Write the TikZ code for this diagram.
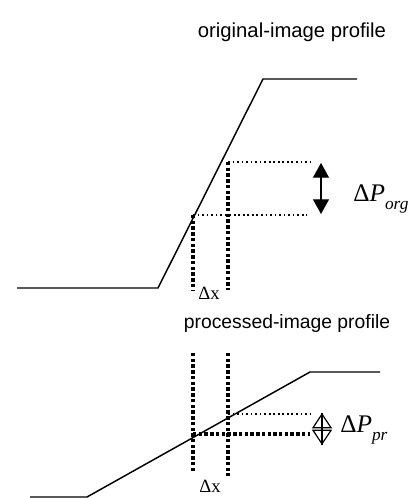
\documentclass[tikz,border=0pt]{standalone}
\usepackage{fontspec}
\setmainfont{Liberation Serif}
\newfontfamily\arialfont{Liberation Sans}
\usetikzlibrary{arrows.meta}
\begin{document}
\begin{tikzpicture}[x=0.75pt,y=-0.75pt,
  curve/.style={line width=1.1pt},
  thindot/.style={line width=1.2pt, dash pattern=on 1.3pt off 2.1pt},
  thickdot/.style={line width=2.3pt, dash pattern=on 2.6pt off 1.7pt},
  solidarrow/.style={line width=0.8pt, {Triangle[length=11pt,width=12pt]}-{Triangle[length=11pt,width=12pt]}},
  openarrow/.style={line width=0.9pt, {Triangle[open,length=11.5pt,width=15pt]}-{Triangle[open,length=11.5pt,width=15pt]}},
  titletext/.style={font=\arialfont\fontsize{14.5}{17}\selectfont, inner sep=0pt, anchor=base},
  dlabel/.style={font=\fontsize{19}{22}\selectfont, inner sep=0pt, anchor=base west},
  dxlabel/.style={font=\fontsize{14}{16}\selectfont, inner sep=0pt, anchor=base west},
]
\useasboundingbox (0,0) rectangle (414,498);

% ---------- titles ----------
\node[titletext, font=\arialfont\fontsize{15.2}{18}\selectfont] (t1) at (292,38) {original-image profile};
\node[titletext] (t2) at (287,328) {processed-image profile};

% ---------- upper profile ----------
\coordinate (a1) at (17,288);
\coordinate (a2) at (158,288);
\coordinate (a3) at (263,79);
\coordinate (a4) at (357,79);
\draw[curve] (a1) -- (a2) -- (a3) -- (a4);

\coordinate (ua) at (193,215);
\coordinate (ub) at (228,162);
\coordinate (ua2) at (193,290);
\coordinate (ub2) at (228,290);
\coordinate (uae) at (307,215);
\coordinate (ube) at (310,162);
\draw[thindot] (ub) -- (ube);
\draw[thindot] (ua) -- (uae);
\draw[thickdot] (ua) -- (ua2);
\draw[thickdot] (ub) -- (ub2);

\coordinate (uarT) at (321,163);
\coordinate (uarB) at (321,214);
\draw[solidarrow] (uarT) -- (uarB);

\node[dlabel] (porg) at (353,202) {Δ\textit{P}\raisebox{-6pt}{\fontsize{13}{14}\selectfont\itshape org}};
\node[dxlabel] (dx1) at (198,299) {Δx};

% ---------- lower profile ----------
\coordinate (b1) at (30,497);
\coordinate (b2) at (87,497);
\coordinate (b3) at (310,372);
\coordinate (b4) at (380,372);
\draw[curve] (b1) -- (b2) -- (b3) -- (b4);

\coordinate (la) at (193,353);
\coordinate (la2) at (193,473);
\coordinate (lb) at (228,353);
\coordinate (lb2) at (228,476);
\draw[thickdot] (la) -- (la2);
\draw[thickdot] (lb) -- (lb2);

\coordinate (lt1) at (228,414);
\coordinate (lt2) at (310,414);
\coordinate (lk1) at (193,434);
\coordinate (lk2) at (310,434);
\draw[thindot] (lt1) -- (lt2);
\draw[thickdot] (lk1) -- (lk2);

\coordinate (larT) at (322,413);
\coordinate (larB) at (322,445);
\draw[openarrow] (larT) -- (larB);
\draw[line width=0.9pt] (larT) -- (larB);

\node[dlabel] (ppr) at (340,432) {Δ\textit{P}\raisebox{-6pt}{\fontsize{13}{14}\selectfont\itshape pr}};
\node[dxlabel] (dx2) at (199,492) {Δx};
\end{tikzpicture}
\end{document}
